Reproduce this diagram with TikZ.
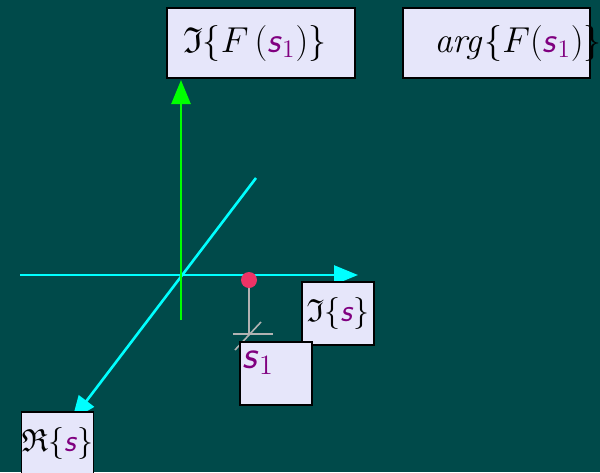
\documentclass[tikz,border=0pt]{standalone}
\usepackage{fix-cm}
\usepackage{amssymb}
\usetikzlibrary{arrows.meta}
\definecolor{bgteal}{RGB}{0,74,74}
\definecolor{boxlav}{RGB}{230,230,250}
\definecolor{axcyan}{RGB}{0,255,255}
\definecolor{axgreen}{RGB}{0,255,0}
\definecolor{ptred}{RGB}{238,51,102}
\definecolor{svar}{RGB}{128,0,128}
\newcommand{\svs}{{\color{svar}\textsf{\textit{s}}}}
\newcommand{\sone}{{\color{svar}\textsf{\textit{s}}_1}}

\begin{document}
\begin{tikzpicture}[x=0.5pt, y=-0.5pt,
    every node/.style={font=\fontsize{18}{22}\selectfont},
    box/.style={draw=black, line width=0.6pt, fill=boxlav, inner ysep=0pt, align=left},
    small/.style={box, minimum width=36pt, minimum height=31.5pt, inner sep=0pt, font=\fontsize{16}{20}\selectfont},
    axis/.style={line width=1.3pt, -{Triangle[length=12pt, width=9.5pt]}},
    tick/.style={gray!60, line width=0.8pt}]
        % Background
        \fill[bgteal] (0,0) rectangle (600,472);
        \useasboundingbox (0,0) rectangle (600,472);

        % Axes
        \coordinate (xl) at (20,275);
        \coordinate (xr) at (358,275);
        \coordinate (dtop) at (256,178);
        \coordinate (dbot) at (72,420);
        \coordinate (ybot) at (181,320);
        \coordinate (ytop) at (181,80);
        \draw[axis, axcyan] (xl) -- (xr);
        \draw[axis, axcyan] (dtop) -- (dbot);
        \draw[axis, axgreen] (ybot) -- (ytop);

        % Point s1 and its foot
        \coordinate (foot) at (249,334);
        \draw[tick] (249,280) -- (foot);
        \draw[tick] ([xshift=-8pt]foot) -- ([xshift=12pt]foot);
        \draw[tick] ([shift={(12,-12)}]foot) -- ([shift={(-14,16)}]foot);
        \node[circle, fill=ptred, minimum size=8pt, inner sep=0pt] (pt) at (249,280) {};

        % Boxes
        \node[box, text width=78pt, inner xsep=8pt, minimum height=35pt] (imF) at (261,43) {$\mathfrak{I}\{F\,(\sone)\}$};
        \node[box, text width=62.5pt, inner xsep=15.5pt, minimum height=35pt] (argF) at (496.5,43) {$\mathit{arg}\{F(\sone)\}$};
        \node[small] (ims) at (338,313.5) {$\mathfrak{I}\{\svs\}$};
        \node[small, text=white] (s1box) at (276,373.5) {};
        \node[anchor=north west, inner sep=0pt, font=\fontsize{20}{24}\selectfont] (s1lbl) at ([shift={(3,9)}]s1box.north west) {$\sone$};
        \node[small, minimum width=35.5pt] (res) at (57.5,443.5) {$\mathfrak{R}\{\svs\}$};
\end{tikzpicture}
\end{document}
